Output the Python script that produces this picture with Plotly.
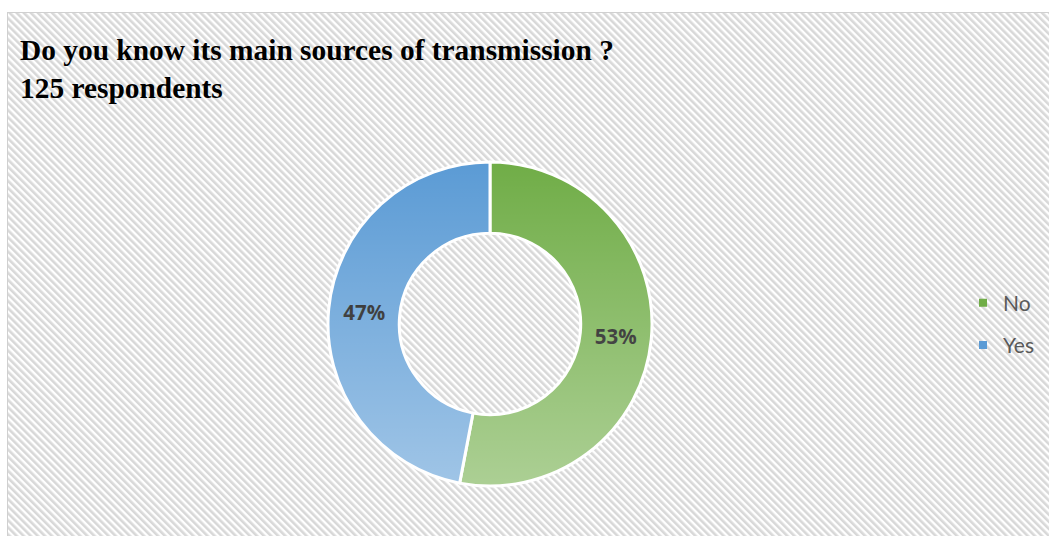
import base64
import plotly.graph_objects as go

W, H = 1049, 536

# Survey answers (percent of 125 respondents)
categories = ["No", "Yes"]
percent_values = [53, 47]
slice_colors = ["#70ad47", "#5b9bd5"]
label_colors = ["#0c0c0c", "#121212"]  # darkened: labels sit under the shading layer
title_lines = ["Do you know its main sources of transmission ?", "125 respondents"]

# Donut geometry in pixels
cx, cy, R = 490, 324, 162
hole = 0.56


def px_x(x):
    return x / W


def px_y(y):
    return 1 - y / H


def svg_uri(svg):
    return "data:image/svg+xml;base64," + base64.b64encode(svg.encode("utf-8")).decode("ascii")


dom_x = [px_x(cx - R), px_x(cx + R)]
dom_y = [px_y(cy + R), px_y(cy - R)]

# Chart-area background: diagonal hatch with a thin grey frame
bx, by = 7, 12
bw, bh = W - bx, H - by
hatch_svg = f'''<svg xmlns="http://www.w3.org/2000/svg" width="{bw}" height="{bh}" viewBox="0 0 {bw} {bh}">
<defs><pattern id="p" patternUnits="userSpaceOnUse" width="5" height="10" patternTransform="rotate(-45)">
<rect x="0" y="0" width="2.6" height="10" fill="#d8d8d8"/></pattern></defs>
<rect x="0" y="0" width="{bw}" height="{bh}" fill="#ffffff"/>
<rect x="0" y="0" width="{bw}" height="{bh}" fill="url(#p)"/>
<rect x="0.5" y="0.5" width="{bw + 10}" height="{bh + 10}" fill="none" stroke="#d0d0d0" stroke-width="1"/>
</svg>'''

# Vertical light shading over the ring (darker top, lighter bottom)
ri = 100 * hole
ring_svg = f'''<svg xmlns="http://www.w3.org/2000/svg" width="200" height="200" viewBox="0 0 200 200">
<defs><linearGradient id="g" x1="0" y1="0" x2="0" y2="1">
<stop offset="0" stop-color="#ffffff" stop-opacity="0"/>
<stop offset="1" stop-color="#ffffff" stop-opacity="0.42"/></linearGradient></defs>
<path fill="url(#g)" fill-rule="evenodd" d="M0,100 A100,100 0 1,0 200,100 A100,100 0 1,0 0,100 Z M{100 - ri},100 A{ri},{ri} 0 1,0 {100 + ri},100 A{ri},{ri} 0 1,0 {100 - ri},100 Z"/>
</svg>'''

fig = go.Figure()

fig.add_trace(go.Pie(
    labels=categories,
    values=percent_values,
    hole=hole,
    sort=False,
    direction="clockwise",
    rotation=0,
    marker=dict(colors=slice_colors, line=dict(color="white", width=3)),
    texttemplate="<b>%{value}%</b>",
    textposition="inside",
    insidetextorientation="horizontal",
    textfont=dict(family="Open Sans", size=20.5, color=label_colors),
    domain=dict(x=dom_x, y=dom_y),
    showlegend=False,
    hoverinfo="label+percent",
))

# Legend entries (one group each so the rows can be spaced apart)
for name, color in zip(categories, slice_colors):
    fig.add_trace(go.Scatter(
        x=[None], y=[None], mode="markers", name=name, legendgroup=name,
        marker=dict(symbol="square", size=8, color=color), hoverinfo="skip",
    ))

fig.update_layout(
    width=W, height=H,
    margin=dict(l=0, r=0, t=0, b=0),
    paper_bgcolor="white",
    plot_bgcolor="rgba(0,0,0,0)",
    xaxis=dict(visible=False),
    yaxis=dict(visible=False),
    legend=dict(
        x=px_x(963), xanchor="left", y=px_y(324), yanchor="middle",
        tracegroupgap=12, itemwidth=30, bgcolor="rgba(0,0,0,0)",
        font=dict(family="Lato", size=21, color="#595959"),
    ),
    title=dict(
        text="<br>".join(title_lines),
        x=px_x(20), xanchor="left", xref="paper",
        y=px_y(60), yanchor="top", yref="paper",
        font=dict(family="Liberation Serif", size=29.4, color="black", weight="bold"),
    ),
    images=[
        dict(source=svg_uri(hatch_svg), xref="paper", yref="paper",
             x=px_x(bx), y=px_y(by), sizex=bw / W, sizey=bh / H,
             xanchor="left", yanchor="top", sizing="stretch", layer="below"),
        dict(source=svg_uri(ring_svg), xref="paper", yref="paper",
             x=dom_x[0], y=dom_y[1], sizex=dom_x[1] - dom_x[0], sizey=dom_y[1] - dom_y[0],
             xanchor="left", yanchor="top", sizing="stretch", layer="above"),
    ],
)

fig.write_html("out.html")
